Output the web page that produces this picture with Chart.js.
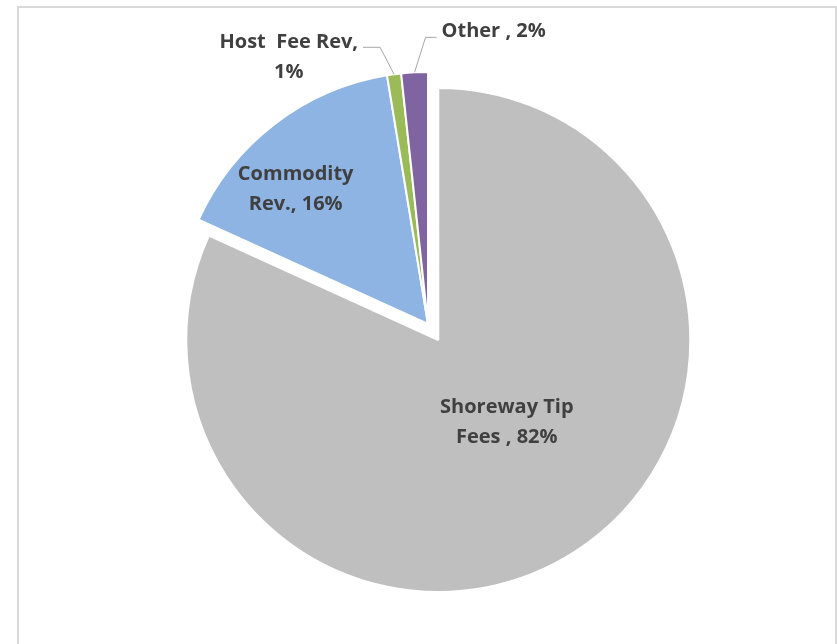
<!DOCTYPE html>
<html lang="en">
<head>
<meta charset="UTF-8">
<title>Revenue Sources</title>
<script src="https://cdn.jsdelivr.net/npm/chart.js"></script>
<style>
    body { margin: 0; background: #fff; overflow: hidden; }
    .frame {
        position: absolute;
        left: 17px;
        top: 6px;
        width: 816px;
        height: 700px;
        border: 2px solid #d9d9d9;
    }
    .wrap { position: relative; width: 837px; height: 644px; }
</style>
</head>
<body>
<div class="frame"></div>
<div class="wrap"><canvas id="pieChart"></canvas></div>
<script>
const categories = ['Shoreway Tip Fees ', 'Commodity Rev.', 'Host  Fee Rev', 'Other '];
const shares = [81.8, 15.6, 0.9, 1.7];
const sliceColors = ['#bfbfbf', '#8db4e2', '#9bbb59', '#8064a2'];

// split label text into lines no wider than maxW
function wrapText(ctx, text, maxW) {
    const words = text.split(' ');
    const lines = [];
    let cur = words[0];
    for (let i = 1; i < words.length; i++) {
        const test = cur + ' ' + words[i];
        if (ctx.measureText(test.trim()).width > maxW && words[i] !== '') {
            lines.push(cur.trim());
            cur = words[i];
        } else {
            cur = test;
        }
    }
    lines.push(cur.trim());
    return lines;
}

const explodedPie = {
    id: 'explodedPie',
    beforeDatasetsDraw(chart, args, opts) {
        const ctx = chart.ctx;
        chart.getDatasetMeta(0).data.forEach((arc, i) => {
            const d = opts.explode[i] || 0;
            const mid = (arc.startAngle + arc.endAngle) / 2;
            ctx.save();
            ctx.translate(Math.cos(mid) * d, Math.sin(mid) * d);
            arc.draw(ctx, chart.chartArea);
            ctx.restore();
        });
        return false;
    },
    afterDraw(chart, args, opts) {
        const ctx = chart.ctx;
        ctx.save();
        ctx.font = opts.font;
        ctx.fillStyle = opts.color;
        ctx.textBaseline = 'middle';
        chart.getDatasetMeta(0).data.forEach((arc, i) => {
            const d = opts.explode[i] || 0;
            const mid = (arc.startAngle + arc.endAngle) / 2;
            const cx = arc.x + Math.cos(mid) * d;
            const cy = arc.y + Math.sin(mid) * d;
            const r = arc.outerRadius;
            const lab = opts.labels[i];
            const text = categories[i] + ', ' + Math.round(shares[i]) + '%';
            const lines = wrapText(ctx, text, lab.wrap);
            const lh = opts.lineHeight;

            if (lab.type === 'inside') {
                const a = mid + lab.shift * Math.PI / 180;
                const lx = cx + Math.cos(a) * r * lab.frac;
                const ly = cy + Math.sin(a) * r * lab.frac;
                ctx.textAlign = 'center';
                lines.forEach((ln, k) => {
                    ctx.fillText(ln, lx, ly + (k - (lines.length - 1) / 2) * lh);
                });
            } else {
                const ax = cx + Math.cos(mid) * r;
                const ay = cy + Math.sin(mid) * r;
                const ex = ax + lab.elbow[0];
                const ey = ay + lab.elbow[1];
                const tx = ex + lab.run;
                ctx.strokeStyle = opts.leaderColor;
                ctx.lineWidth = 1;
                ctx.beginPath();
                ctx.moveTo(ax, ay);
                ctx.lineTo(ex, ey);
                ctx.lineTo(tx, ey);
                ctx.stroke();
                const bw = Math.max(...lines.map(l => ctx.measureText(l).width));
                const bx = lab.run < 0 ? tx - 5 - bw / 2 : tx + 5 + bw / 2;
                ctx.textAlign = 'center';
                lines.forEach((ln, k) => {
                    ctx.fillText(ln, bx, ey + lab.dy + k * lh);
                });
            }
        });
        ctx.restore();
    }
};

new Chart(document.getElementById('pieChart'), {
    type: 'pie',
    data: {
        labels: categories,
        datasets: [{
            data: shares,
            backgroundColor: sliceColors,
            borderColor: '#ffffff',
            borderWidth: 2,
            hoverOffset: 0
        }]
    },
    options: {
        responsive: true,
        maintainAspectRatio: false,
        devicePixelRatio: 1,
        animation: false,
        events: [],
        layout: { padding: { top: 71, bottom: 67, left: 19, right: 0 } },
        plugins: {
            legend: { display: false },
            tooltip: { enabled: false },
            explodedPie: {
                explode: [19, 0, 0, 0],
                font: 'bold 20px "Open Sans"',
                color: '#404040',
                leaderColor: '#a6a6a6',
                lineHeight: 30,
                labels: [
                    { type: 'inside', frac: 0.425, shift: -7, wrap: 160 },
                    { type: 'inside', frac: 0.75, shift: -7, wrap: 125 },
                    { type: 'outside', elbow: [-14, -27], run: -17, dy: -5, wrap: 160 },
                    { type: 'outside', elbow: [11, -35], run: 11, dy: -6, wrap: 300 }
                ]
            }
        }
    },
    plugins: [explodedPie]
});
</script>
</body>
</html>
